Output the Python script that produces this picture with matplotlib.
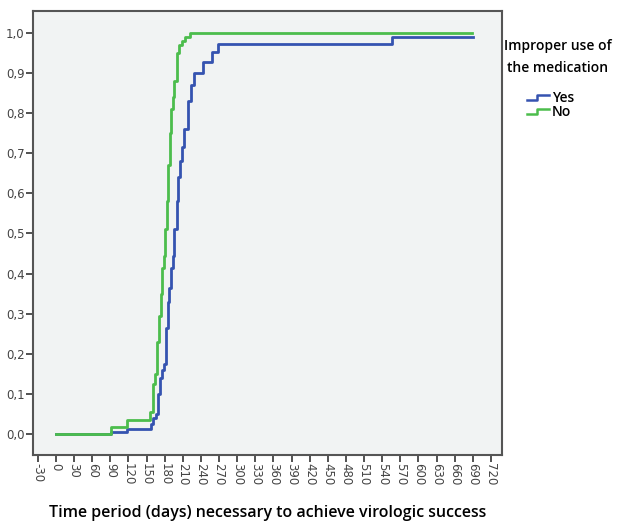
import numpy as np
import matplotlib
matplotlib.use('Agg')
import matplotlib.pyplot as plt
from matplotlib.lines import Line2D
from matplotlib.legend_handler import HandlerBase

# Cumulative proportion of virologic success
days_yes = [0, 91, 118, 157, 161, 165, 169, 172, 176, 179, 182, 185, 187, 190,
            193, 196, 200, 202, 205, 209, 212, 218, 223, 228, 243, 258, 268, 556, 690]
cum_yes = [0, 0.006, 0.012, 0.025, 0.04, 0.05, 0.10, 0.14, 0.16, 0.175, 0.265, 0.33,
           0.365, 0.415, 0.445, 0.51, 0.58, 0.64, 0.68, 0.715, 0.76, 0.83, 0.87,
           0.90, 0.928, 0.953, 0.973, 0.99, 0.99]

days_no = [0, 91, 118, 156, 160, 164, 168, 171, 174, 176, 179, 181, 184, 186, 188,
           191, 194, 196, 200, 204, 209, 214, 222, 689]
cum_no = [0, 0.017, 0.035, 0.055, 0.125, 0.15, 0.23, 0.295, 0.35, 0.415, 0.445,
          0.51, 0.58, 0.67, 0.75, 0.81, 0.84, 0.88, 0.95, 0.97, 0.98, 0.99, 1.0, 1.0]

groups = ['Yes', 'No']
colors = ['#3553b0', '#4cbd4c']

xticks = np.arange(-30, 721, 30)
yticks = np.arange(0, 1.01, 0.1)

fig = plt.figure(figsize=(6.18, 5.23), dpi=100)
ax = fig.add_axes([0.0534, 0.130, 0.7586, 0.849])
ax.set_facecolor('#f1f3f3')

ax.step(days_yes, cum_yes, where='post', color=colors[0], lw=2)
ax.step(days_no, cum_no, where='post', color=colors[1], lw=2)

ax.set_xlim(-38, 738)
ax.set_ylim(-0.0525, 1.055)
ax.set_xticks(xticks)
ax.set_xticklabels([str(t) for t in xticks], rotation=270, fontsize=8.5, color='#444444')
ax.set_yticks(yticks)
ax.yaxis.set_major_formatter(plt.FuncFormatter(lambda v, p: ('%.1f' % v).replace('.', ',')))
for lab in ax.get_yticklabels():
    lab.set_fontsize(8.5)
    lab.set_color('#444444')
ax.tick_params(axis='both', direction='out', length=5, width=1.2, color='#333333', pad=1,
               labelsize=8.5, labelcolor='#444444')
for s in ax.spines.values():
    s.set_color('#555555')
    s.set_linewidth(1.5)

ax.set_xlabel('Time period (days) necessary to achieve virologic success',
              fontsize=11.5, fontweight='semibold', family='Open Sans', labelpad=14)


class StepHandler(HandlerBase):
    def create_artists(self, legend, orig, x0, y0, width, height, fontsize, trans):
        xs = [x0, x0 + width * 0.45, x0 + width * 0.45, x0 + width]
        ys = [y0 + height * 0.2, y0 + height * 0.2, y0 + height * 0.75, y0 + height * 0.75]
        ln = Line2D(xs, ys, color=orig.get_color(), lw=1.8, transform=trans)
        return [ln]


handles = [Line2D([], [], color=c) for c in colors]
leg = fig.legend(handles, groups, loc='upper left', bbox_to_anchor=(0.832, 0.85),
                 frameon=False, handler_map={Line2D: StepHandler()},
                 handlelength=1.6, handletextpad=0.2, labelspacing=0.0,
                 prop={'family': 'Open Sans', 'size': 10, 'weight': 'semibold'})
fig.text(0.902, 0.925, 'Improper use of\nthe medication', ha='center', va='top',
         fontsize=10, fontweight='semibold', family='Open Sans', linespacing=1.75)

fig.savefig('out.png', dpi=100)
